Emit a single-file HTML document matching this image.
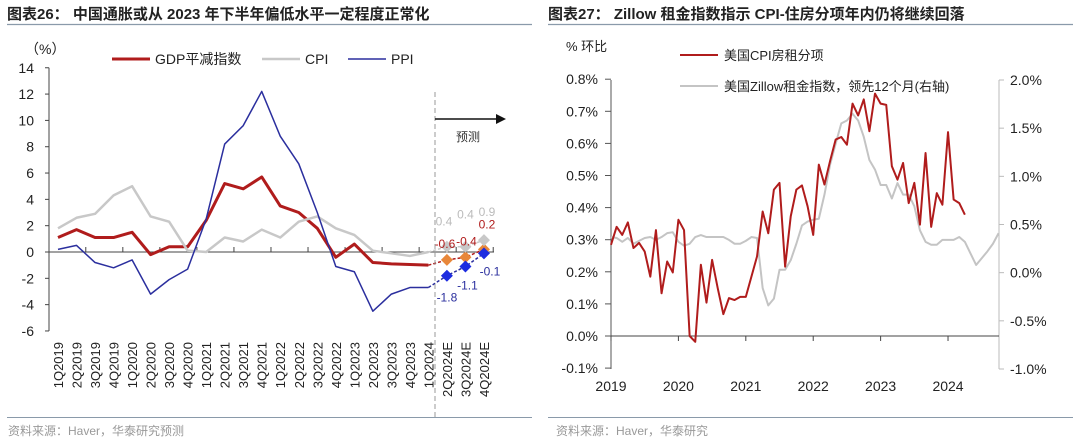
<!DOCTYPE html>
<html><head><meta charset="utf-8">
<style>
body{margin:0;background:#fff;}
svg text{font-family:"Liberation Sans","Noto Sans CJK SC",sans-serif;}
</style></head>
<body>
<svg id="s" width="1080" height="442" viewBox="0 0 1080 442" xmlns="http://www.w3.org/2000/svg">
<text x="7" y="19" font-size="15" font-weight="bold" fill="#222">图表26：  中国通胀或从 2023 年下半年偏低水平一定程度正常化</text>
<line x1="7" y1="24.5" x2="532" y2="24.5" stroke="#8a9aaa" stroke-width="1.2"/>
<text x="548" y="19" font-size="15" font-weight="bold" fill="#222">图表27：  Zillow 租金指数指示 CPI-住房分项年内仍将继续回落</text>
<line x1="548" y1="24.5" x2="1073" y2="24.5" stroke="#8a9aaa" stroke-width="1.2"/>
<line x1="7" y1="417.5" x2="532" y2="417.5" stroke="#8a9aaa" stroke-width="1"/>
<line x1="548" y1="417.5" x2="1073" y2="417.5" stroke="#8a9aaa" stroke-width="1"/>
<text x="8" y="435" font-size="12" fill="#999">资料来源：Haver，华泰研究预测</text>
<text x="556" y="435" font-size="12" fill="#999">资料来源：Haver，华泰研究</text>
<g id="L"></g>
<g id="R"></g>
</svg>
<script>
const cats=["1Q2019","2Q2019","3Q2019","4Q2019","1Q2020","2Q2020","3Q2020","4Q2020","1Q2021","2Q2021","3Q2021","4Q2021","1Q2022","2Q2022","3Q2022","4Q2022","1Q2023","2Q2023","3Q2023","4Q2023","1Q2024","2Q2024E","3Q2024E","4Q2024E"];
const gdpVals=[1.1,1.7,1.1,1.1,1.5,-0.2,0.4,0.4,2.4,5.2,4.8,5.7,3.5,3.0,1.8,-0.4,0.6,-0.8,-0.9,-0.95,-1.0];
const cpiVals=[1.8,2.6,2.9,4.3,5.0,2.7,2.3,0.1,0.0,1.1,0.8,1.7,1.1,2.3,2.7,1.8,1.3,0.1,-0.1,-0.3,0.0];
const ppiVals=[0.2,0.5,-0.8,-1.2,-0.6,-3.2,-2.1,-1.3,2.5,8.2,9.6,12.2,8.8,6.7,3.0,-1.1,-1.5,-4.5,-3.2,-2.7,-2.7];
const gdpFc=[-0.6,-0.4,0.2];
const cpiFc=[0.4,0.4,0.9];
const ppiFc=[-1.8,-1.1,-0.1];
const leftTicks=[14,12,10,8,6,4,2,0,-2,-4,-6];

const rentVals=[0.284,0.34,0.315,0.354,0.274,0.29,0.263,0.185,0.33,0.133,0.232,0.198,0.362,0.33,0.0,-0.018,0.222,0.104,0.237,0.149,0.068,0.118,0.112,0.122,0.122,0.185,0.248,0.388,0.32,0.456,0.477,0.216,0.373,0.456,0.469,0.404,0.315,0.534,0.472,0.545,0.612,0.62,0.596,0.724,0.687,0.737,0.638,0.755,0.724,0.72,0.529,0.487,0.539,0.414,0.477,0.347,0.57,0.34,0.445,0.409,0.635,0.425,0.414,0.378];
const zillowVals=[0.37,0.36,0.32,0.36,0.30,0.33,0.36,0.37,0.34,0.37,0.41,0.42,0.32,0.28,0.30,0.37,0.39,0.37,0.37,0.37,0.37,0.34,0.30,0.30,0.33,0.37,0.36,-0.16,-0.34,-0.27,0.03,0.03,0.13,0.30,0.49,0.53,0.55,0.56,0.81,1.12,1.34,1.55,1.58,1.65,1.58,1.41,1.17,1.07,0.91,0.91,0.77,0.93,0.81,0.81,0.69,0.44,0.32,0.29,0.29,0.34,0.34,0.34,0.37,0.32,0.20,0.08,0.15,0.22,0.30,0.41];
const years=["2019","2020","2021","2022","2023","2024"];
const rightLeftTicks=[0.8,0.7,0.6,0.5,0.4,0.3,0.2,0.1,0.0,-0.1];
const rightRightTicks=[2.0,1.5,1.0,0.5,0.0,-0.5,-1.0];

const NS="http://www.w3.org/2000/svg";
function mk(parent,tag,attrs,text){const e=document.createElementNS(NS,tag);for(const k in attrs)e.setAttribute(k,attrs[k]);if(text!==undefined)e.textContent=text;parent.appendChild(e);return e;}
const L=document.getElementById('L'),R=document.getElementById('R');

// ---- left chart ----
const lx=i=>58+i*18.52;
const ly=v=>252-v*13.16;
let e;
e=mk(L,'line',{x1:49,y1:ly(14),x2:49,y2:ly(-6),stroke:'#444','stroke-width':1});

e=mk(L,'line',{x1:49,y1:ly(0),x2:494,y2:ly(0),stroke:'#444','stroke-width':1});

leftTicks.forEach(t=>{
  e=mk(L,'line',{x1:45,y1:ly(t),x2:49,y2:ly(t),stroke:'#444'});
  
  e=mk(L,'text',{x:34,y:ly(t)+5,'font-size':14,'text-anchor':'end',fill:'#222'},String(t));
  
});
for(let i=1;i<cats.length;i+=2){
  e=mk(L,'line',{x1:lx(i+0.5),y1:ly(0),x2:lx(i+0.5),y2:ly(0)-5,stroke:'#444'});
  
}
cats.forEach((c,i)=>{
  e=mk(L,'text',{x:0,y:0,'font-size':13,'text-anchor':'end',fill:'#222',transform:`translate(${lx(i)+5},342) rotate(-90)`},c);
  
});
e=mk(L,'text',{x:25,y:54,'font-size':14,fill:'#222'},'（%）');

const series=[[gdpVals,gdpFc,'#b01c1c',3,'#e8873a','gdp'],[cpiVals,cpiFc,'#c8c8c8',2.5,'#c8c8c8','cpi'],[ppiVals,ppiFc,'#2b2f9e',1.5,'#1d2ce0','ppi']];
series.forEach(([vals,fc,col,w,mcol,n])=>{
  e=mk(L,'polyline',{points:vals.map((v,i)=>lx(i)+','+ly(v)).join(' '),fill:'none',stroke:col,'stroke-width':w,'stroke-linejoin':'round'});
  
  const last=vals.length-1;
  const pts=[[lx(last),ly(vals[last])]].concat(fc.map((v,j)=>[lx(last+1+j),ly(v)]));
  e=mk(L,'polyline',{points:pts.map(p=>p.join(',')).join(' '),fill:'none',stroke:col,'stroke-width':1.5,'stroke-dasharray':'3,2'});
  
  fc.forEach((v,j)=>{
    const x=lx(last+1+j),y=ly(v);
    e=mk(L,'polygon',{points:`${x},${y-6} ${x+6},${y} ${x},${y+6} ${x-6},${y}`,fill:mcol});
    
  });
});
// forecast labels (offsets are layout only)
const cpiLabDy=[-21,-28,-24], cpiLabDx=[-3,0,3];
const gdpLabDy=[-12,-12,-21], gdpLabDx=[-2,1,3];
const ppiLabDy=[26,23,22], ppiLabDx=[0,2,6];
cpiFc.forEach((v,j)=>{const x=lx(21+j);
  e=mk(L,'text',{x:x+cpiLabDx[j],y:ly(v)+cpiLabDy[j],'font-size':12,fill:'#bbb','text-anchor':'middle'},String(v));
  });
gdpFc.forEach((v,j)=>{const x=lx(21+j);
  e=mk(L,'text',{x:x+gdpLabDx[j],y:ly(v)+gdpLabDy[j],'font-size':12,fill:'#b01c1c','text-anchor':'middle'},String(v));
  });
ppiFc.forEach((v,j)=>{const x=lx(21+j);
  e=mk(L,'text',{x:x+ppiLabDx[j],y:ly(v)+ppiLabDy[j],'font-size':12,fill:'#2b2f9e','text-anchor':'middle'},String(v));
  });
e=mk(L,'line',{x1:435,y1:92,x2:435,y2:418,stroke:'#999','stroke-dasharray':'5,3'});

e=mk(L,'line',{x1:435,y1:119,x2:498,y2:119,stroke:'#111','stroke-width':1.5});

e=mk(L,'polygon',{points:'496,114 506,119 496,124',fill:'#111'});

e=mk(L,'text',{x:456,y:141,'font-size':12,fill:'#333'},'预测');

[[112,'#b01c1c',3,'GDP平减指数'],[262,'#c8c8c8',2.5,'CPI'],[348,'#2b2f9e',1.5,'PPI']].forEach(([x,c,w,t])=>{
  e=mk(L,'line',{x1:x,y1:59,x2:x+38,y2:59,stroke:c,'stroke-width':w});
  
  e=mk(L,'text',{x:x+43,y:64,'font-size':14,fill:'#222'},t);
  
});

// ---- right chart ----
const rx=m=>611+m*5.617;
const ryl=v=>336-v*321;
const ryr=v=>80+(2-v)*96.33;
e=mk(R,'line',{x1:611,y1:80,x2:611,y2:369,stroke:'#555'});

e=mk(R,'line',{x1:999,y1:80,x2:999,y2:369,stroke:'#bbb'});

e=mk(R,'line',{x1:611,y1:ryl(0),x2:999,y2:ryl(0),stroke:'#444'});

rightLeftTicks.forEach(t=>{
  e=mk(R,'line',{x1:605,y1:ryl(t),x2:611,y2:ryl(t),stroke:'#555'});
  
  e=mk(R,'text',{x:598,y:ryl(t)+5,'font-size':14,'text-anchor':'end',fill:'#222'},t.toFixed(1)+'%');
  
});
rightRightTicks.forEach(t=>{
  e=mk(R,'line',{x1:999,y1:ryr(t),x2:1004,y2:ryr(t),stroke:'#bbb'});
  
  e=mk(R,'text',{x:1010,y:ryr(t)+5,'font-size':14,fill:'#222'},t.toFixed(1)+'%');
  
});
years.forEach((y,i)=>{
  const x=rx(i*12);
  e=mk(R,'line',{x1:x,y1:ryl(0),x2:x,y2:ryl(0)+5,stroke:'#444'});
  
  e=mk(R,'text',{x:x,y:391,'font-size':14,'text-anchor':'middle',fill:'#222'},y);
  
});
e=mk(R,'polyline',{points:zillowVals.map((v,i)=>rx(i)+','+ryr(v)).join(' '),fill:'none',stroke:'#c4c4c4','stroke-width':2,'stroke-linejoin':'round'});

e=mk(R,'polyline',{points:rentVals.map((v,i)=>rx(i)+','+ryl(v)).join(' '),fill:'none',stroke:'#b01c1c','stroke-width':2,'stroke-linejoin':'round'});

e=mk(R,'text',{x:566,y:51,'font-size':13,fill:'#222'},'% 环比');

[[55,'#b01c1c','美国CPI房租分项'],[86,'#c4c4c4','美国Zillow租金指数，领先12个月(右轴)']].forEach(([y,c,t])=>{
  e=mk(R,'line',{x1:680,y1:y,x2:718,y2:y,stroke:c,'stroke-width':2});
  
  e=mk(R,'text',{x:724,y:y+5,'font-size':13,fill:'#222'},t);
  
});
</script>
</body></html>
